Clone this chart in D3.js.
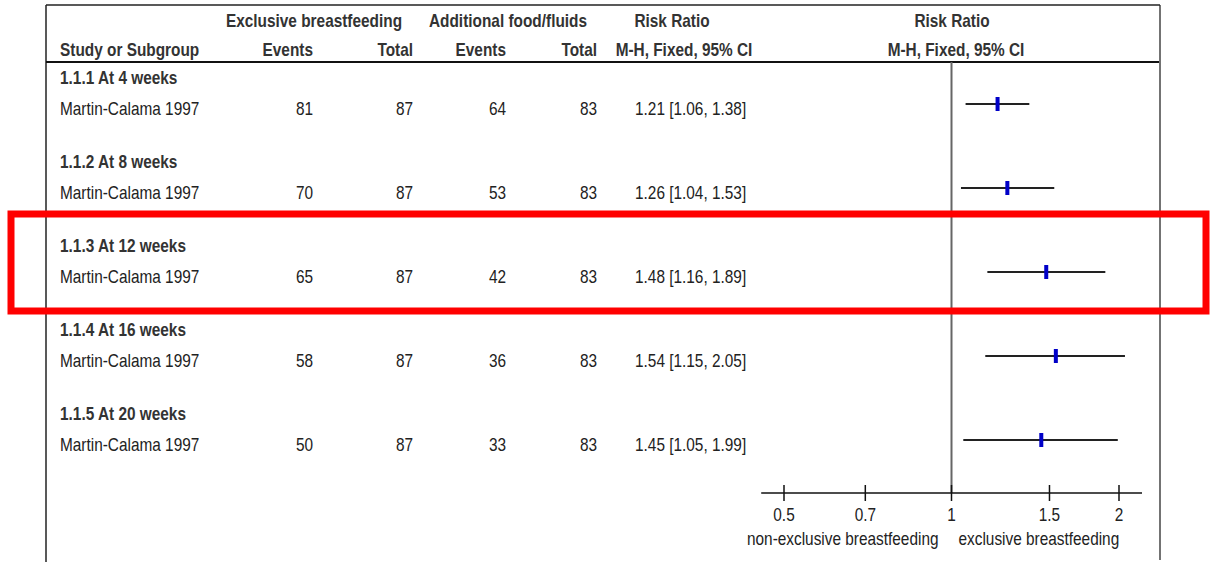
<!DOCTYPE html>
<html>
<head>
<meta charset="utf-8">
<script src="https://cdn.jsdelivr.net/npm/d3@7"></script>
<style>
  html, body { margin: 0; padding: 0; background: #fff; }
  svg { display: block; }
  text { font-family: "Liberation Sans", Arial, sans-serif; font-size: 18px; fill: #222; }
  .bold { font-weight: bold; fill: #333; }
</style>
</head>
<body>
<svg id="chart" width="1210" height="562"></svg>
<script>
// Forest plot: exclusive breastfeeding vs additional food/fluids
const subgroups = ["1.1.1 At 4 weeks", "1.1.2 At 8 weeks", "1.1.3 At 12 weeks", "1.1.4 At 16 weeks", "1.1.5 At 20 weeks"];
const studies = ["Martin-Calama 1997", "Martin-Calama 1997", "Martin-Calama 1997", "Martin-Calama 1997", "Martin-Calama 1997"];
const expEvents = [81, 70, 65, 58, 50];
const expTotal = [87, 87, 87, 87, 87];
const ctlEvents = [64, 53, 42, 36, 33];
const ctlTotal = [83, 83, 83, 83, 83];
const riskRatio = [1.21, 1.26, 1.48, 1.54, 1.45];
const ciLow = [1.06, 1.04, 1.16, 1.15, 1.05];
const ciHigh = [1.38, 1.53, 1.89, 2.05, 1.99];
const axisTicks = [0.5, 0.7, 1, 1.5, 2];
const axisLabels = ["non-exclusive breastfeeding", "exclusive breastfeeding"];
const highlightedGroup = 2;

// Condensed lettering: text is squeezed horizontally around its anchor
const squeeze = 0.855;
function place(sel, xPos, yPos) {
  return sel.attr("x", 0).attr("y", 0)
    .attr("transform", function (d, i) {
      const xv = typeof xPos === "function" ? xPos(d, i) : xPos;
      const yv = typeof yPos === "function" ? yPos(d, i) : yPos;
      return `translate(${xv},${yv}) scale(${squeeze},1)`;
    })
    .attr("dominant-baseline", "middle");
}

const svg = d3.select("#chart");

// Log scale for the risk ratio panel
const x = d3.scaleLog().domain([0.5, 2]).range([784, 1119]);
// Vertical position of each subgroup block
const yGroup = d3.scaleLinear().domain([0, 1]).range([78, 162]);
const studyOffset = 31;
const markOffset = 26;

// Outer frame
const frame = svg.append("g").attr("fill", "none");
frame.append("line").attr("x1", 46).attr("x2", 46).attr("y1", 5).attr("y2", 562).attr("stroke", "#222").attr("stroke-width", 1.5);
frame.append("line").attr("x1", 1160).attr("x2", 1160).attr("y1", 5).attr("y2", 560).attr("stroke", "#444").attr("stroke-width", 1.5);
frame.append("line").attr("x1", 46).attr("x2", 1160).attr("y1", 5).attr("y2", 5).attr("stroke", "#222").attr("stroke-width", 1.5);
frame.append("line").attr("x1", 46).attr("x2", 1159).attr("y1", 62).attr("y2", 62).attr("stroke", "#111").attr("stroke-width", 2);

// Column headers
const hdr = svg.append("g").attr("class", "headers");
function header(txt, xPos, yPos, anchor) {
  place(hdr.append("text").attr("class", "bold"), xPos, yPos)
    .attr("text-anchor", anchor).text(txt);
}
header("Exclusive breastfeeding", 314, 22, "middle");
header("Additional food/fluids", 508, 22, "middle");
header("Risk Ratio", 672, 22, "middle");
header("Risk Ratio", 952, 22, "middle");
header("Study or Subgroup", 60, 51, "start");
header("Events", 313, 51, "end");
header("Total", 413, 51, "end");
header("Events", 506, 51, "end");
header("Total", 597, 51, "end");
header("M-H, Fixed, 95% CI", 684, 51, "middle");
header("M-H, Fixed, 95% CI", 956, 51, "middle");

// Rows
const rows = svg.append("g").selectAll("g").data(subgroups).join("g")
  .attr("transform", (d, i) => `translate(0,${yGroup(i)})`);

place(rows.append("text").attr("class", "bold"), 60, 1).text(d => d);

const fmt = d3.format(".2f");
const cols = [
  { x: 60, anchor: "start", val: i => studies[i] },
  { x: 313, anchor: "end", val: i => expEvents[i] },
  { x: 413, anchor: "end", val: i => expTotal[i] },
  { x: 506, anchor: "end", val: i => ctlEvents[i] },
  { x: 597, anchor: "end", val: i => ctlTotal[i] },
  { x: 635, anchor: "start", val: i => `${fmt(riskRatio[i])} [${fmt(ciLow[i])}, ${fmt(ciHigh[i])}]` }
];
cols.forEach(c => {
  place(rows.append("text"), c.x, studyOffset + 1)
    .attr("text-anchor", c.anchor)
    .text((d, i) => c.val(i));
});

// Line of no effect
const yAxis = 493;
svg.append("line").attr("x1", x(1)).attr("x2", x(1)).attr("y1", 62).attr("y2", yAxis)
  .attr("stroke", "#666").attr("stroke-width", 2);

// Confidence intervals and point estimates
rows.append("line")
  .attr("x1", (d, i) => x(ciLow[i])).attr("x2", (d, i) => x(ciHigh[i]))
  .attr("y1", markOffset).attr("y2", markOffset)
  .attr("stroke", "#222").attr("stroke-width", 2);
rows.append("rect")
  .attr("x", (d, i) => x(riskRatio[i]) - 2).attr("y", markOffset - 7)
  .attr("width", 4).attr("height", 14).attr("fill", "#0000c8");

// Bottom axis
const axisG = svg.append("g").attr("transform", `translate(0,${yAxis})`);
axisG.append("line").attr("x1", x(0.455)).attr("x2", x(2.2)).attr("y1", 0).attr("y2", 0)
  .attr("stroke", "#111").attr("stroke-width", 1.5);
axisG.selectAll(".tick").data(axisTicks).join("line")
  .attr("x1", d => x(d)).attr("x2", d => x(d)).attr("y1", -8).attr("y2", 8)
  .attr("stroke", "#111").attr("stroke-width", 1.5);
place(axisG.selectAll(".tl").data(axisTicks).join("text"), d => x(d), 23)
  .attr("text-anchor", "middle").text(d => d);
place(axisG.append("text"), x(1) - 13, 47).attr("text-anchor", "end").text(axisLabels[0]);
place(axisG.append("text"), x(1) + 7, 47).attr("text-anchor", "start").text(axisLabels[1]);

// Highlight box around one subgroup
const hy = yGroup(highlightedGroup);
svg.append("rect").attr("x", 11).attr("y", hy - 32).attr("width", 1195).attr("height", 97)
  .attr("fill", "none").attr("stroke", "#ff0000").attr("stroke-width", 7);
</script>
</body>
</html>
